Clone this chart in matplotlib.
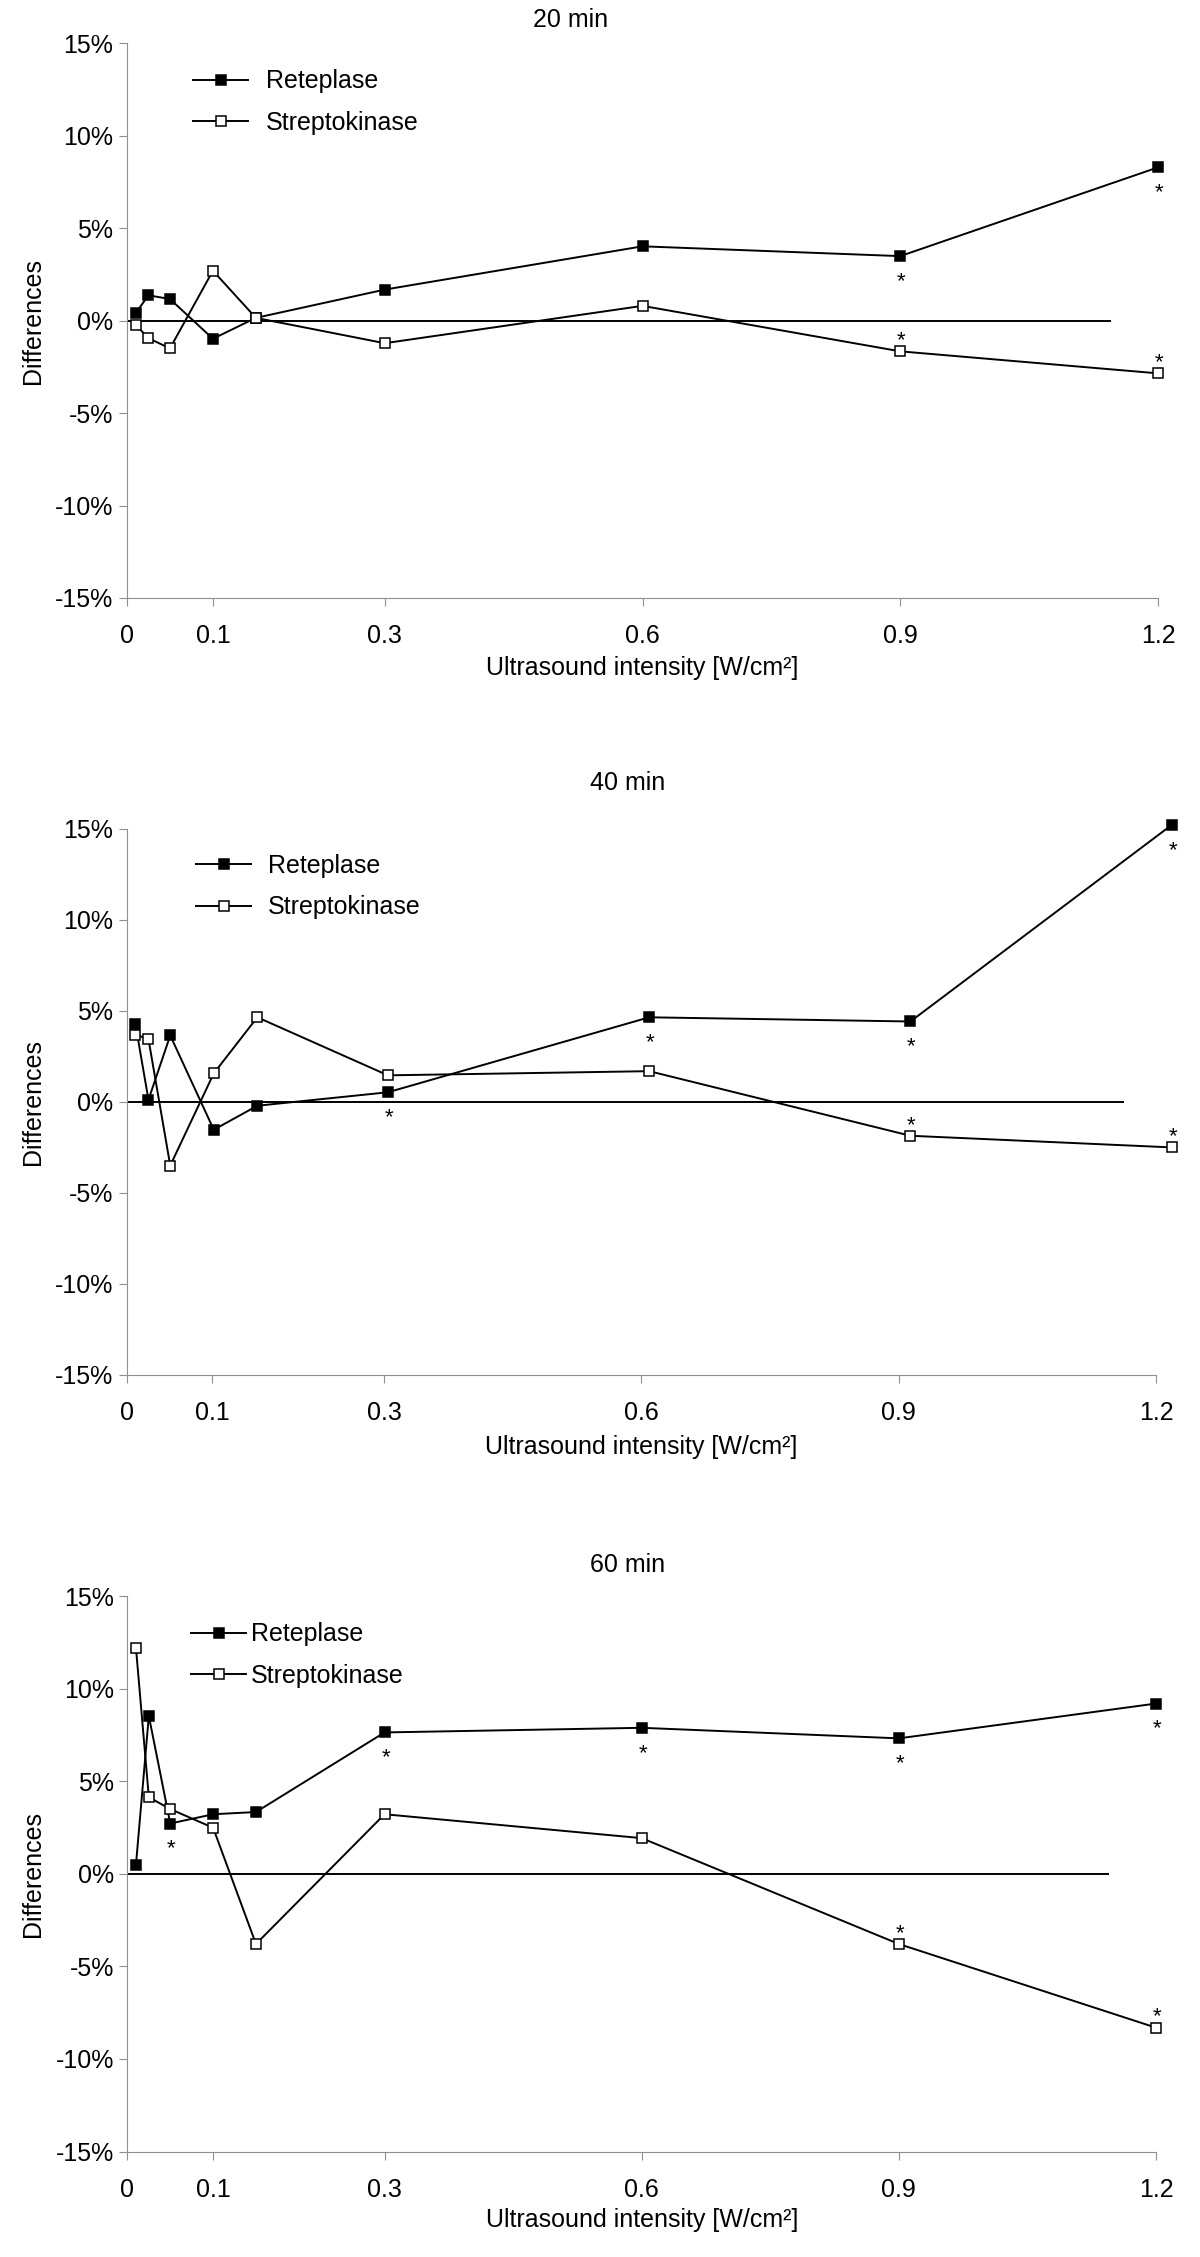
import matplotlib
matplotlib.use('Agg')
import matplotlib.pyplot as plt
from matplotlib.transforms import ScaledTranslation

plt.rcParams['font.family'] = ['Liberation Sans', 'DejaVu Sans']

# ultrasound intensity [W/cm2] of the measured points
intensity = [0.01, 0.025, 0.05, 0.1, 0.15, 0.3, 0.6, 0.9, 1.2]
tick_values = [0, 0.1, 0.3, 0.6, 0.9, 1.2]
tick_labels = ['0', '0.1', '0.3', '0.6', '0.9', '1.2']
y_ticks = [-15, -10, -5, 0, 5, 10, 15]
y_tick_labels = ['-15%', '-10%', '-5%', '0%', '5%', '10%', '15%']
panel_titles = ['20 min', '40 min', '60 min']

# differences [%]
reteplase_20 = [0.4, 1.37, 1.17, -0.98, 0.15, 1.68, 4.02, 3.49, 8.29]
strepto_20 = [-0.22, -0.95, -1.5, 2.7, 0.15, -1.22, 0.8, -1.66, -2.85]
reteplase_40 = [4.26, 0.1, 3.63, -1.55, -0.23, 0.51, 4.63, 4.4, 15.2]
strepto_40 = [3.68, 3.43, -3.52, 1.55, 4.63, 1.44, 1.67, -1.88, -2.52]
reteplase_60 = [0.5, 8.53, 2.72, 3.22, 3.34, 7.64, 7.89, 7.32, 9.2]
strepto_60 = [12.2, 4.14, 3.5, 2.49, -3.79, 3.22, 1.93, -3.79, -8.31]

# intensities marked significant (*)
sig_reteplase = [[0.9, 1.2], [0.3, 0.6, 0.9, 1.2], [0.05, 0.3, 0.6, 0.9, 1.2]]
sig_strepto = [[0.9, 1.2], [0.9, 1.2], [0.9, 1.2]]

reteplase = [reteplase_20, reteplase_40, reteplase_60]
strepto = [strepto_20, strepto_40, strepto_60]

W, H = 1200, 2257
FS = 18
GRAY = '#8f8f8f'

# layout in pixels: left, right, top, bottom of each axes
rects = [(127, 1158, 43.3, 598), (126.7, 1156, 828.6, 1374.5), (127.4, 1156, 1596.2, 2151.5)]
tick_scale = [1.0, 0.985, 1.0]   # the 40 min panel's ticks sit slightly off the data scale
title_pos = [(571, 20), (628, 783), (628, 1565)]
xlabel_gap = [70, 72.5, 68.5]
legend_pos = [(193, 102, 0.72), (196, 886.5, 0.68), (191, 1655, 0.2)]
zero_end = 1.145

fig = plt.figure(figsize=(W / 100, H / 100), dpi=100)
shift = ScaledTranslation(0.05, 0, fig.dpi_scale_trans)

for i in range(3):
    l, r, t, b = rects[i]
    ax = fig.add_axes([l / W, 1 - b / H, (r - l) / W, (b - t) / H])
    ts = tick_scale[i]

    ax.hlines(0, 0, zero_end, color='black', lw=1.4, zorder=2)
    ax.plot(intensity, reteplase[i], color='black', lw=1.4, marker='s', ms=7.3,
            mfc='black', mec='black', mew=1.1, label='Reteplase', clip_on=False, zorder=3)
    ax.plot(intensity, strepto[i], color='black', lw=1.4, marker='s', ms=7.3,
            mfc='white', mec='black', mew=1.1, label='Streptokinase', clip_on=False, zorder=3)

    for xv in sig_reteplase[i]:
        yv = reteplase[i][intensity.index(xv)]
        ax.annotate('*', (xv, yv), xytext=(1, -31), textcoords='offset pixels',
                    ha='center', va='baseline', fontsize=16, annotation_clip=False)
    for xv in sig_strepto[i]:
        yv = strepto[i][intensity.index(xv)]
        ax.annotate('*', (xv, yv), xytext=(1, 5), textcoords='offset pixels',
                    ha='center', va='baseline', fontsize=16, annotation_clip=False)

    ax.set_xlim(0, 1.2 * ts)
    ax.set_ylim(-15, 15)
    ax.set_xticks([v * ts for v in tick_values])
    ax.set_xticklabels(tick_labels)
    ax.set_yticks(y_ticks)
    ax.set_yticklabels(y_tick_labels)
    for lab in ax.get_xticklabels():
        lab.set_transform(lab.get_transform() + shift)

    for side in ['top', 'right']:
        ax.spines[side].set_visible(False)
    for side in ['left', 'bottom']:
        ax.spines[side].set_color(GRAY)
        ax.spines[side].set_linewidth(0.8)
    ax.tick_params(axis='both', direction='out', length=5.8, width=0.8, color=GRAY,
                   labelsize=FS, labelcolor='black')
    ax.tick_params(axis='x', pad=13)
    ax.tick_params(axis='y', pad=4)

    ax.set_xlabel('Ultrasound intensity [W/cm²]', fontsize=FS, va='center')
    ax.xaxis.set_label_coords(0.5, -xlabel_gap[i] / (b - t))
    ax.set_ylabel('Differences', fontsize=FS, va='center')
    ax.yaxis.set_label_coords((33 - l) / (r - l), 0.5)

    tx, ty = title_pos[i]
    fig.text(tx / W, 1 - ty / H, panel_titles[i], fontsize=FS, ha='center', va='center')

    lx, ly, pad = legend_pos[i]
    ax.legend(loc='center left', bbox_to_anchor=(lx / W, 1 - ly / H),
              bbox_transform=fig.transFigure, frameon=False, borderpad=0,
              borderaxespad=0, handlelength=2.2, handletextpad=pad,
              labelspacing=0.7, fontsize=FS, numpoints=1)

fig.savefig('out.png', dpi=100)
